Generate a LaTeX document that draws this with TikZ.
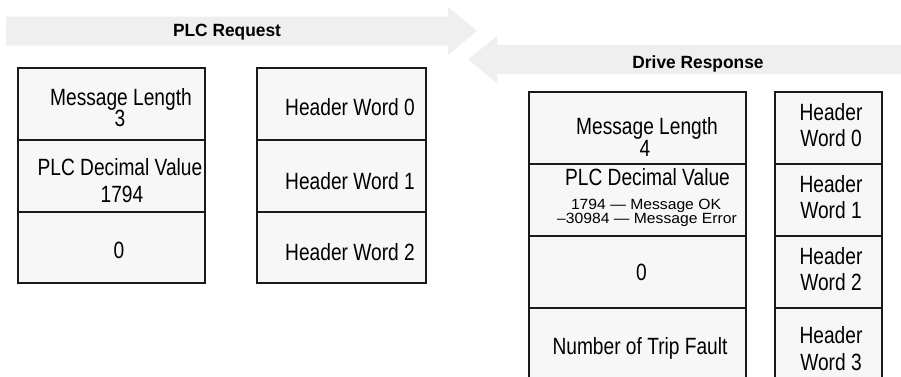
\documentclass[tikz,border=0pt]{standalone}
\usepackage{fontspec}
\setmainfont{Liberation Sans}
\newfontfamily\regf{Liberation Sans}[FakeStretch=0.815]
\newfontfamily\smallf{Liberation Sans}[FakeStretch=1.06]
\newfontfamily\titlef{Liberation Sans}[FakeStretch=0.98]
\definecolor{arrowgray}{HTML}{EFEFEF}
\definecolor{cellgray}{HTML}{F7F7F7}
\definecolor{edge}{HTML}{1A1A1A}
\tikzset{
  bigarrow/.style={fill=arrowgray, draw=none},
  cell/.style={fill=cellgray, draw=edge, line width=1.3pt},
  txt/.style={inner sep=0pt, anchor=base, font=\regf\fontsize{23.5}{25}\selectfont},
  smalltxt/.style={inner sep=0pt, anchor=base, font=\smallf\fontsize{14.8}{16}\selectfont},
  title/.style={inner sep=0pt, anchor=base, font=\titlef\bfseries\fontsize{17.7}{20}\selectfont},
}
\begin{document}
\begin{tikzpicture}[x=1pt,y=-1pt]
\useasboundingbox (0,0) rectangle (901,376);
% arrows
\fill[bigarrow] (6,16.5) -- (448,16.5) -- (448,7) -- (477,31) -- (448,55) -- (448,45.5) -- (6,45.5) -- cycle;
\fill[bigarrow] (905,45) -- (497,45) -- (497,36) -- (468,59.5) -- (497,83) -- (497,74) -- (905,74) -- cycle;
\node[title] (treq) at (227,36.7) {PLC Request};
\node[title] (tresp) at (698,68) {Drive Response};
% left request table
\draw[cell] (18,68) rectangle (205,140);
\draw[cell] (18,140) rectangle (205,212);
\draw[cell] (18,212) rectangle (205,283);
\draw[cell] (257,68) rectangle (426,140);
\draw[cell] (257,140) rectangle (426,212);
\draw[cell] (257,212) rectangle (426,283);
\node[txt] (l1a) at (121,105.5) {Message Length};
\node[txt] (l1b) at (120,126.7) {3};
\node[txt] (l2a) at (120,175.5) {PLC Decimal Value};
\node[txt] (l2b) at (122,202) {1794};
\node[txt] (l3) at (119,258) {0};
\node[txt] (h0) at (350,115) {Header Word 0};
\node[txt] (h1) at (350,189.5) {Header Word 1};
\node[txt] (h2) at (350,260) {Header Word 2};
% right response table
\draw[cell] (529,92) rectangle (746,164);
\draw[cell] (529,164) rectangle (746,236);
\draw[cell] (529,236) rectangle (746,308);
\draw[cell] (529,308) rectangle (746,382);
\draw[cell] (775,92) rectangle (882,164);
\draw[cell] (775,164) rectangle (882,236);
\draw[cell] (775,236) rectangle (882,308);
\draw[cell] (775,308) rectangle (882,382);
\node[txt] (r1a) at (647,134.5) {Message Length};
\node[txt] (r1b) at (645,156.7) {4};
\node[txt] (r2a) at (647.5,185) {PLC Decimal Value};
\node[smalltxt] (r2b) at (646,209.5) {1794 — Message OK};
\node[smalltxt] (r2c) at (647,223.5) {–30984 — Message Error};
\node[txt] (r3) at (641.5,280) {0};
\node[txt] (r4) at (640,354) {Number of Trip Fault};
\node[txt] (k0a) at (831,120.7) {Header};
\node[txt] (k0b) at (831,146.7) {Word 0};
\node[txt] (k1a) at (831,192.7) {Header};
\node[txt] (k1b) at (831,218.3) {Word 1};
\node[txt] (k2a) at (831,264) {Header};
\node[txt] (k2b) at (831,290) {Word 2};
\node[txt] (k3a) at (831,343.3) {Header};
\node[txt] (k3b) at (831,370) {Word 3};
\end{tikzpicture}
\end{document}
